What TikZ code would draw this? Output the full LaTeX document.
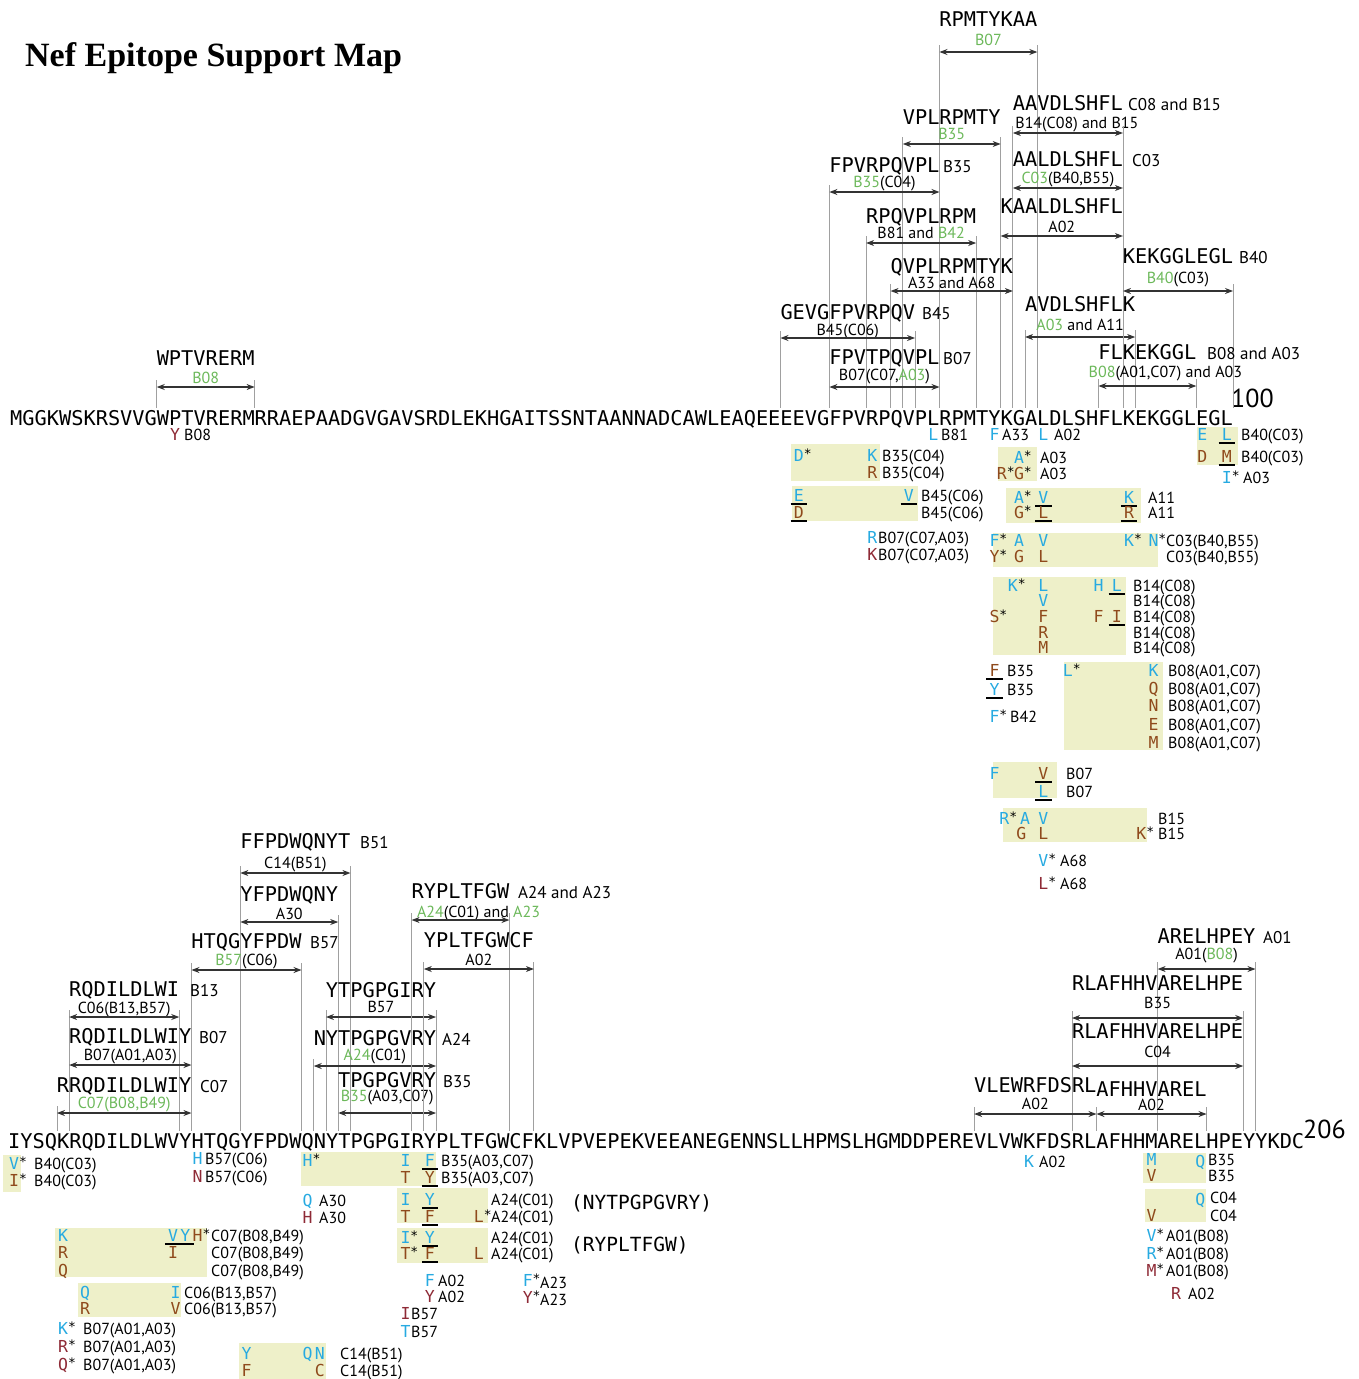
\documentclass[tikz,border=0pt]{standalone}
\usepackage{fontspec}
\usetikzlibrary{arrows.meta}
\setmainfont{Liberation Serif}
\newfontfamily\monofam{DejaVu Sans Mono}
\newfontfamily\labfam{PT Sans}
\newcommand{\seqfont}{\monofam\fontsize{20.31}{22}\selectfont}
\newcommand{\varfont}{\monofam\fontsize{16.5}{18}\selectfont}
\newcommand{\restrfont}{\labfam\fontsize{16}{18}\selectfont}
\newcommand{\hlafont}{\labfam\fontsize{17}{19}\selectfont}
\definecolor{epigreen}{HTML}{6CB85A}
\definecolor{escblue}{HTML}{27AAE1}
\definecolor{revbrown}{HTML}{8F4A1C}
\definecolor{revred}{HTML}{8E2A36}
\definecolor{boxfill}{HTML}{EEF0C9}
\definecolor{guidegray}{HTML}{A0A0A0}
\definecolor{arrowgray}{HTML}{333333}
\newcommand{\gr}[1]{\textcolor{epigreen}{#1}}
\newcommand{\st}{\rlap{\raisebox{3pt}{\fontsize{13}{13}\selectfont\textcolor{black}{*}}}}
% #1 name, #2/#3 left/right x, #4 peptide baseline, #5 label baseline, #6 arrow y,
% #7 peptide, #8 restriction, #9 label shift
\newcommand{\epitope}[9]{%
  \node[episeq] (#1) at ({(#2+#3)/2},{#4}) {#7};
  \node[restr] (#1-hla) at ({(#2+#3)/2+#9},{#5}) {#8};
  \coordinate (#1-l) at ({#2},{#6});
  \coordinate (#1-r) at ({#3},{#6});
  \coordinate (#1-lt) at ({#2},{#6-7});
  \coordinate (#1-rt) at ({#3},{#6-7});
  \coordinate (#1-lb) at ({#2},\seqtop);
  \coordinate (#1-rb) at ({#3},\seqtop);
  \draw[guide] (#1-lt) -- (#1-lb);
  \draw[guide] (#1-rt) -- (#1-rb);
  \draw[reach] (#1-l) -- (#1-r);
}

\begin{document}
\begin{tikzpicture}[x=1pt, y=-1pt,
  declare function={tx(\k)=10+\k*12.23; bx(\k)=8+(\k-100)*12.23;
                    cx(\p)=10+(\p-0.5)*12.23; bcx(\p)=8+(\p-100.5)*12.23;}]
\tikzset{
    seqrow/.style={font=\seqfont, inner sep=0pt, anchor=base west},
    episeq/.style={font=\seqfont, inner sep=0pt, anchor=base},
    restr/.style={font=\restrfont, inner sep=0pt, anchor=base},
    hla/.style={font=\hlafont, inner sep=0pt, anchor=base west},
    vlab/.style={font=\restrfont, inner sep=0pt, anchor=base west},
    var/.style={font=\varfont, inner sep=0pt, anchor=base},
    guide/.style={draw=guidegray, line width=0.8pt},
    reach/.style={draw=arrowgray, line width=1.1pt, {Stealth[length=8pt,width=6pt]}-{Stealth[length=8pt,width=6pt]}},
    tint/.style={fill=boxfill, draw=none},
    uline/.style={draw=black, line width=1.4pt}
}
\useasboundingbox (0,0) rectangle (1359,1379);

\node[font=\bfseries\fontsize{34}{38}\selectfont, inner sep=0pt, anchor=base west] (title) at (25,66) {Nef Epitope Support Map};

% shaded variant blocks
\def\boxlist{1197/427/1238/465, 791/444/880/481, 998/447/1037/481, 792/486/918/521,
  1006/488/1141/523, 993/533/1158/567, 993/577/1126/655, 1064/662/1163/750,
  993/762/1057/798, 1003/808/1147/842,
  3/1155/21/1192, 301/1152/436/1186, 397/1188/488/1223, 397/1228/488/1263,
  55/1228/207/1277, 78/1283/181/1317, 239/1343/326/1379, 1143/1153/1206/1183,
  1145/1189/1206/1222}
\foreach \xa/\ya/\xb/\yb in \boxlist
{
  \fill[tint] (\xa,\ya) rectangle (\xb,\yb);
}

% sequence 1-100
\node[seqrow] (nefA) at (10,425) {MGGKWSKRSVVGWPTVRERMRRAEPAADGVGAVSRDLEKHGAITSSNTAANNADCAWLEAQEEEEVGFPVRPQVPLRPMTYKGALDLSHFLKEKGGLEGL};
\node[font=\labfam\fontsize{26}{28}\selectfont, inner sep=0pt, anchor=base west] (n100) at (1231,407) {100};
\def\seqtop{408}
\epitope{wpt}{tx(12)}{tx(20)}{365}{383}{387}{WPTVRERM}{\gr{B08}}{0}
\epitope{rpm}{tx(76)}{tx(84)}{26}{45}{52}{RPMTYKAA}{\gr{B07}}{0}
\epitope{vpl}{tx(73)}{tx(81)}{124}{139}{144}{VPLRPMTY}{\gr{B35}}{0}
\epitope{aav}{tx(82)}{tx(91)}{110}{128}{133}{AAVDLSHFL}{B14(C08) and B15}{9}
\epitope{aal}{tx(82)}{tx(91)}{166}{183}{188}{AALDLSHFL}{\gr{C03}(B40,B55)}{0}
\epitope{kaa}{tx(81)}{tx(91)}{213}{232}{236}{KAALDLSHFL}{A02}{0}
\epitope{fpv}{tx(67)}{tx(76)}{172}{187}{192}{FPVRPQVPL}{\gr{B35}(C04)}{0}
\epitope{rpq}{tx(70)}{tx(79)}{223}{238}{243}{RPQVPLRPM}{B81 and \gr{B42}}{0}
\epitope{qvp}{tx(72)}{tx(82)}{273}{288}{291}{QVPLRPMTYK}{A33 and A68}{0}
\epitope{gev}{tx(63)}{tx(74)}{319}{335}{338}{GEVGFPVRPQV}{B45(C06)}{0}
\epitope{fpt}{tx(67)}{tx(76)}{364}{380}{387}{FPVTPQVPL}{B07(C07,\gr{A03})}{0}
\epitope{avd}{tx(83)}{tx(92)}{311}{330}{337}{AVDLSHFLK}{\gr{A03} and A11}{0}
\epitope{kek}{tx(91)}{tx(100)}{263}{283}{291}{KEKGGLEGL}{\gr{B40}(C03)}{0}
\epitope{flk}{tx(89)}{tx(97)}{359}{377}{386}{FLKEKGGL}{\gr{B08}(A01,C07) and A03}{18}

% sequence 101-206
\node[seqrow] (nefB) at (8,1148) {IYSQKRQDILDLWVYHTQGYFPDWQNYTPGPGIRYPLTFGWCFKLVPVEPEKVEEANEGENNSLLHPMSLHGMDDPEREVLVWKFDSRLAFHHMARELHPEYYKDC};
\node[font=\labfam\fontsize{26}{28}\selectfont, inner sep=0pt, anchor=base west] (n206) at (1303,1138) {206};
\def\seqtop{1131}
\epitope{ffp}{bx(119)}{bx(128)}{848}{868}{873}{FFPDWQNYT}{C14(B51)}{0}
\epitope{yfp}{bx(119)}{bx(127)}{901}{919}{922}{YFPDWQNY}{A30}{0}
\epitope{htq}{bx(115)}{bx(124)}{948}{965}{970}{HTQGYFPDW}{\gr{B57}(C06)}{0}
\epitope{rqd}{bx(105)}{bx(114)}{996}{1013}{1017}{RQDILDLWI}{C06(B13,B57)}{0}
\epitope{rqy}{bx(105)}{bx(115)}{1043}{1060}{1065}{RQDILDLWIY}{B07(A01,A03)}{0}
\epitope{rrq}{bx(104)}{bx(115)}{1092}{1108}{1113}{RRQDILDLWIY}{\gr{C07(B08,B49)}}{0}
\epitope{ytp}{bx(126)}{bx(135)}{997}{1012}{1017}{YTPGPGIRY}{B57}{0}
\epitope{nyt}{bx(125)}{bx(135)}{1045}{1060}{1066}{NYTPGPGVRY}{\gr{A24}(C01)}{0}
\epitope{tpg}{bx(127)}{bx(135)}{1087}{1101}{1113}{TPGPGVRY}{\gr{B35}(A03,C07)}{0}
\epitope{ryp}{bx(133)}{bx(141)}{898}{917}{920}{RYPLTFGW}{\gr{A24}(C01) and \gr{A23}}{18}
\epitope{ypl}{bx(134)}{bx(143)}{947}{965}{969}{YPLTFGWCF}{A02}{0}
\epitope{are}{bx(194)}{bx(202)}{943}{959}{969}{ARELHPEY}{A01(\gr{B08})}{0}
\epitope{rla}{bx(187)}{bx(201)}{990}{1008}{1018}{RLAFHHVARELHPE}{B35}{0}
\epitope{rlb}{bx(187)}{bx(201)}{1038}{1057}{1066}{RLAFHHVARELHPE}{C04}{0}
\epitope{vle}{bx(179)}{bx(189)}{1092}{1109}{1114}{VLEWRFDSRL}{A02}{0}
\epitope{afh}{bx(189)}{bx(198)}{1096}{1110}{1114}{AFHHVAREL}{A02}{0}

% restrictions beside the peptides
\def\hlalist{1128/110/C08 and B15, 1132/166/C03, 943/172/B35, 922/319/B45, 943/364/B07,
  1239/263/B40, 1207/359/B08 and A03, 360/848/B51, 310/948/B57, 190/996/B13,
  199/1043/B07, 200/1092/C07, 442/1045/A24, 443/1087/B35, 518/898/A24 and A23, 1263/943/A01}
\foreach \x/\y/\t [count=\i] in \hlalist
{
  \node[hla] (hla\i) at (\x,\y) {\t};
}

% variant residues, positions 1-100
\def\toplist{76/440/escblue/L, 81/440/escblue/F, 85/440/escblue/L, 98/440/escblue/E,
  98/462/revbrown/D, 100/483/escblue/{I\st}, 65/461/escblue/{D\st}, 71/461/escblue/K,
  71/478/revbrown/R, 83/463/escblue/{A\st}, 81.6/479/revbrown/{R\st}, 83/479/revbrown/{G\st},
  83/503/escblue/{A\st}, 83/518/revbrown/{G\st}, 71/543/escblue/R, 71/560/revred/K,
  81/546/escblue/{F\st}, 83/546/escblue/A, 85/546/escblue/V, 92/546/escblue/{K\st},
  94/546/escblue/{N\st}, 81/562/revbrown/{Y\st}, 83/562/revbrown/G, 85/562/revbrown/L,
  82.5/591/escblue/{K\st}, 85/591/escblue/L, 89.5/591/escblue/H, 85/606/escblue/V,
  81/622/revbrown/{S\st}, 85/622/revbrown/F, 89.5/622/revbrown/F, 85/638/revbrown/R,
  85/653/revbrown/M, 81/722/escblue/{F\st}, 87/676/escblue/{L\st}, 94/676/escblue/K,
  94/694/revbrown/Q, 94/711/revbrown/N, 94/730/revbrown/E, 94/748/revbrown/M,
  81/779/escblue/F, 81.8/824/escblue/{R\st}, 83.5/824/escblue/A, 85/824/escblue/V,
  83.2/839/revbrown/G, 85/839/revbrown/L, 93/839/revbrown/{K\st}, 85/866/escblue/{V\st},
  85/889/revred/{L\st}, 14/440/revred/Y}
\foreach \p/\y/\c/\t [count=\i] in \toplist
{
  \node[var, text=\c] (ta\i) at ({cx(\p)},\y) {\t};
}
\def\topul{100/440/escblue/L, 100/462/revbrown/M, 65/501/escblue/E, 74/501/escblue/V,
  65/518/revbrown/D, 85/503/escblue/V, 92/503/escblue/K, 85/518/revbrown/L,
  92/518/revbrown/R, 91/591/escblue/L, 91/622/revbrown/I, 81/676/revbrown/F,
  81/695/escblue/Y, 85/779/revbrown/V, 85/797/escblue/L}
\foreach \p/\y/\c/\t [count=\i] in \topul
{
  \node[var, text=\c] (tu\i) at ({cx(\p)},\y) {\t};
  \draw[uline] ([shift={(-3pt,-3pt)}]tu\i.base west) -- ([shift={(3pt,-3pt)}]tu\i.base east);
}

% variant residues, positions 101-206
\def\botlist{101/1169/escblue/{V\st}, 101/1186/revbrown/{I\st}, 116/1164/escblue/H,
  116/1182/revred/N, 125/1166/escblue/{H\st}, 133/1166/escblue/I, 133/1183/revbrown/T,
  125/1206/escblue/Q, 125/1223/revred/H, 133/1205/escblue/I, 133/1222/revbrown/T,
  139/1222/revbrown/{L\st}, 133/1243/escblue/{I\st}, 133/1259/revbrown/{T\st},
  139/1259/revbrown/L, 135/1286/escblue/F, 135/1302/revred/Y, 143/1286/escblue/{F\st},
  143/1303/revred/{Y\st}, 133/1319/revred/I, 133/1337/escblue/T, 105/1241/escblue/K,
  105/1258/revbrown/R, 105/1276/revbrown/Q, 116/1241/revbrown/{H\st}, 114/1258/revbrown/I,
  106.8/1298/escblue/Q, 114.2/1298/escblue/I, 106.8/1314/revbrown/R, 114.2/1314/revbrown/V,
  105/1334/escblue/{K\st}, 105/1352/revred/{R\st}, 105/1370/revred/{Q\st},
  120/1359/escblue/Y, 125/1359/escblue/Q, 126/1359/escblue/N, 120/1376/revbrown/F,
  126/1376/revbrown/C, 184/1167/escblue/K, 194/1165/escblue/M, 198/1167/escblue/Q,
  194/1181/revbrown/V, 198/1205/escblue/Q, 194/1221/revbrown/V, 194/1241/escblue/{V\st},
  194/1259/escblue/{R\st}, 194/1276/revred/{M\st}, 196/1299/revred/R}
\foreach \p/\y/\c/\t [count=\i] in \botlist
{
  \node[var, text=\c] (ba\i) at ({bcx(\p)},\y) {\t};
}
\def\botul{135/1166/escblue/F, 135/1183/revbrown/Y, 135/1205/escblue/Y, 135/1222/revbrown/F,
  135/1243/escblue/Y, 135/1259/revbrown/F, 114/1241/escblue/V, 115/1241/escblue/Y}
\foreach \p/\y/\c/\t [count=\i] in \botul
{
  \node[var, text=\c] (bu\i) at ({bcx(\p)},\y) {\t};
  \draw[uline] ([shift={(-3pt,-3pt)}]bu\i.base west) -- ([shift={(3pt,-3pt)}]bu\i.base east);
}

% allele labels of the variants
\def\vlablist{941/440/B81, 1002/440/A33, 1054/440/A02, 1241/440/B40(C03), 1241/462/B40(C03),
  1243/483/A03, 882/461/B35(C04), 882/478/B35(C04), 1040/463/A03, 1040/479/A03,
  921/501/B45(C06), 921/518/B45(C06), 1148/503/A11, 1148/518/A11,
  878/543/{B07(C07,A03)}, 878/560/{B07(C07,A03)}, 1166/546/{C03(B40,B55)}, 1166/562/{C03(B40,B55)},
  1133/591/B14(C08), 1133/606/B14(C08), 1133/622/B14(C08), 1133/638/B14(C08), 1133/653/B14(C08),
  1007/676/B35, 1007/695/B35, 1010/722/B42,
  1168/676/{B08(A01,C07)}, 1168/694/{B08(A01,C07)}, 1168/711/{B08(A01,C07)},
  1168/730/{B08(A01,C07)}, 1168/748/{B08(A01,C07)},
  1066/779/B07, 1066/797/B07, 1158/824/B15, 1158/839/B15, 1060/866/A68, 1060/889/A68, 184/440/B08,
  34/1169/B40(C03), 34/1186/B40(C03), 205/1164/B57(C06), 205/1182/B57(C06),
  441/1166/{B35(A03,C07)}, 441/1183/{B35(A03,C07)}, 319/1206/A30, 319/1223/A30,
  491/1205/A24(C01), 491/1222/A24(C01), 491/1243/A24(C01), 491/1259/A24(C01),
  438/1286/A02, 438/1302/A02, 540/1288/A23, 540/1305/A23, 411/1319/B57, 411/1337/B57,
  211/1241/{C07(B08,B49)}, 211/1258/{C07(B08,B49)}, 211/1276/{C07(B08,B49)},
  184/1298/{C06(B13,B57)}, 184/1314/{C06(B13,B57)},
  83/1334/{B07(A01,A03)}, 83/1352/{B07(A01,A03)}, 83/1370/{B07(A01,A03)},
  340/1359/C14(B51), 340/1376/C14(B51), 1039/1167/A02, 1208/1165/B35, 1208/1181/B35,
  1210/1203/C04, 1210/1221/C04, 1166/1241/A01(B08), 1166/1259/A01(B08), 1166/1276/A01(B08),
  1188/1299/A02}
\foreach \x/\y/\t [count=\i] in \vlablist
{
  \node[vlab] (vl\i) at (\x,\y) {\t};
}
\node[font=\monofam\fontsize{19.5}{21}\selectfont, inner sep=0pt, anchor=base west] (pepA) at (571,1209) {(NYTPGPGVRY)};
\node[font=\monofam\fontsize{19.5}{21}\selectfont, inner sep=0pt, anchor=base west] (pepB) at (571,1251) {(RYPLTFGW)};
\end{tikzpicture}
\end{document}
